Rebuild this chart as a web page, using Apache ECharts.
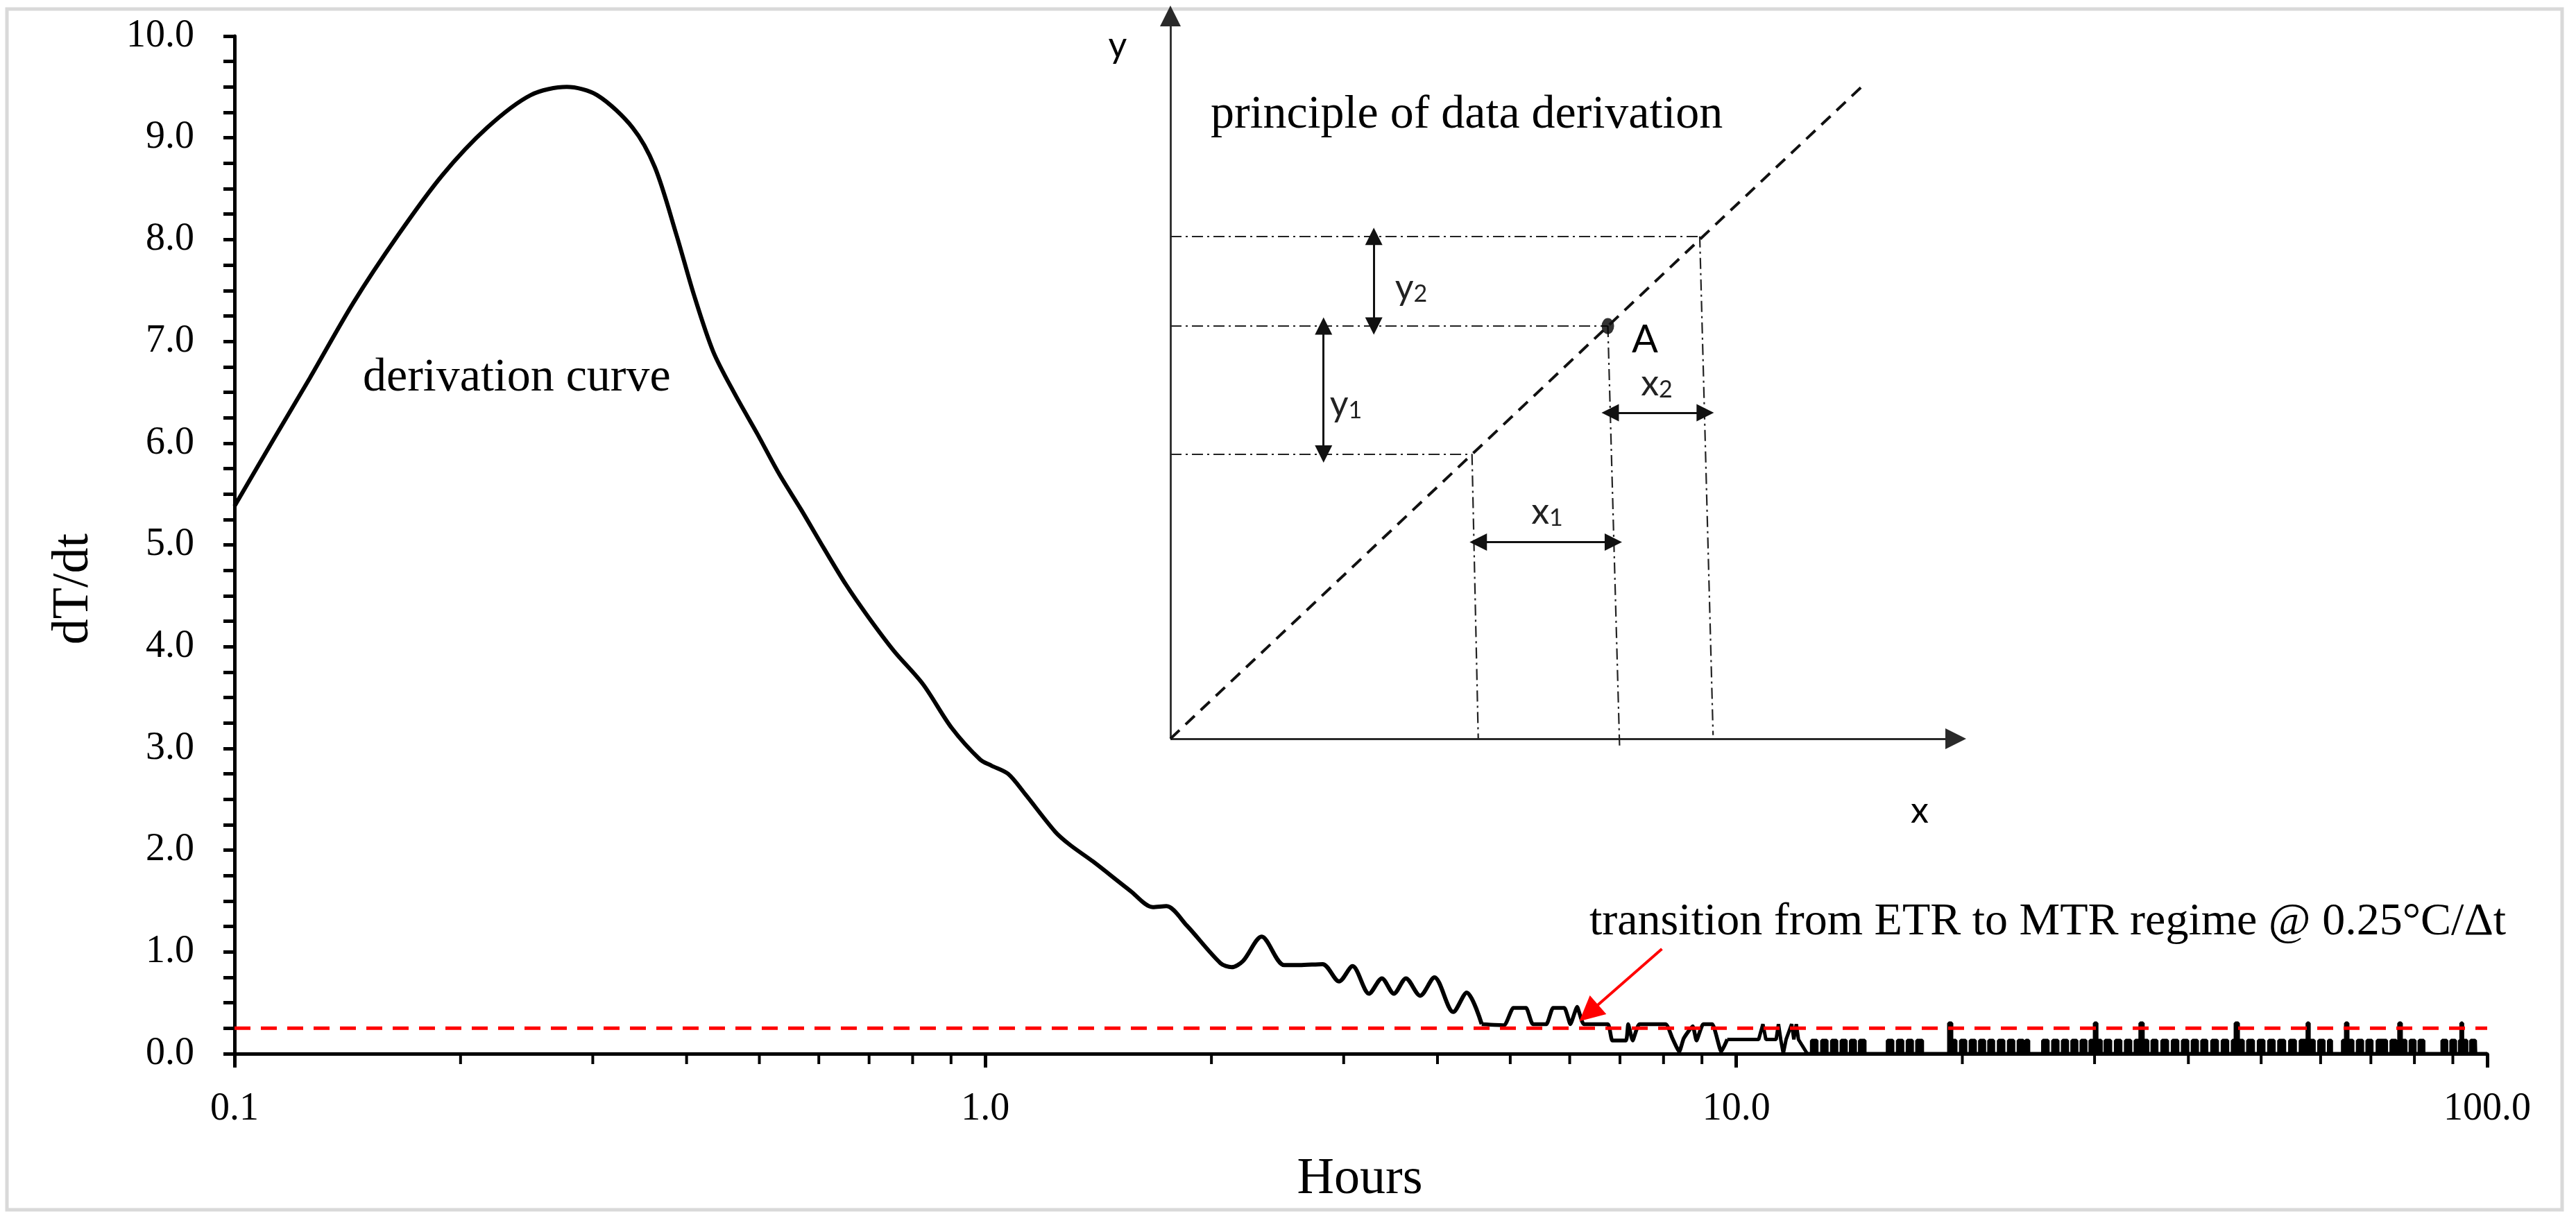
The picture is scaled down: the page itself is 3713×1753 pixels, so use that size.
<!DOCTYPE html>
<html lang="en">
<head>
    <meta charset="UTF-8"/>
    <script src="https://cdn.jsdelivr.net/npm/echarts@6/dist/echarts.min.js"></script>
    <title>dT/dt derivation curve</title>
    <style>
        html, body { margin: 0; padding: 0; background: #fff; }
        #chart { width: 3713px; height: 1753px; }
    </style>
</head>
<body>
<div id="chart"></div>
<script type="text/javascript">
    // derivation curve: hours and dT/dt
    var hours = [
        0.100, 0.113, 0.126, 0.144, 0.165, 0.189, 0.217, 0.248, 0.277, 0.304,
        0.339, 0.363, 0.388, 0.409, 0.434, 0.464, 0.497, 0.531, 0.569, 0.609,
        0.652, 0.697, 0.755, 0.826, 0.902, 0.984, 1.019, 1.072, 1.130, 1.239,
        1.297, 1.390, 1.560, 1.671, 1.742, 1.854, 2.056, 2.128, 2.203, 2.333,
        2.500, 2.618, 2.812, 2.958, 3.083, 3.243, 3.373, 3.499, 3.631, 3.793,
        3.963, 4.198, 4.375, 4.581, 4.909, 5.047, 5.248, 5.358, 5.585, 5.702,
        5.902, 6.012, 6.138, 6.266, 6.745, 6.839, 7.129, 7.178, 7.278, 7.430,
        8.054, 8.222, 8.395, 8.511, 8.750, 8.851, 9.036, 9.290, 9.550, 9.727
    ];
    var dTdt = [
        5.38, 6.05, 6.64, 7.38, 8.04, 8.63, 9.10, 9.42, 9.50, 9.42,
        9.10, 8.71, 8.04, 7.46, 6.90, 6.48, 6.09, 5.70, 5.34, 4.97,
        4.61, 4.30, 3.96, 3.63, 3.20, 2.89, 2.83, 2.75, 2.55, 2.18,
        2.05, 1.89, 1.60, 1.44, 1.45, 1.26, 0.89, 0.85, 0.91, 1.15,
        0.87, 0.87, 0.88, 0.71, 0.86, 0.59, 0.74, 0.59, 0.74, 0.57,
        0.75, 0.41, 0.60, 0.29, 0.28, 0.45, 0.45, 0.29, 0.29, 0.45,
        0.45, 0.29, 0.46, 0.29, 0.29, 0.13, 0.13, 0.29, 0.13, 0.29,
        0.29, 0.15, 0.02, 0.15, 0.27, 0.13, 0.29, 0.29, 0.02, 0.14
    ];
    // noisy tail after ~10 h
    var tailHours = [
        10.30, 10.71, 10.85, 10.95, 11.30, 11.38, 11.46, 11.55, 11.65, 11.85,
        11.93, 12.02, 12.10, 12.43, 12.60, 12.80, 13.00, 13.20, 13.40, 13.60,
        13.80, 14.00, 14.20, 14.40, 14.60, 14.83, 15.65, 15.90, 16.15, 16.40,
        16.65, 16.90, 17.15, 17.40, 17.69, 19.05, 19.19, 19.35, 19.60, 19.90,
        20.20, 20.50, 20.80, 21.10, 21.40, 21.70, 22.00, 22.35, 22.70, 23.05,
        23.40, 23.75, 24.10, 24.30, 24.50, 25.20, 25.60, 26.00, 26.40, 26.80,
        27.20, 27.60, 28.00, 28.40, 28.80, 29.20, 29.60, 30.00, 30.20, 30.60,
        31.00, 31.50, 32.00, 32.50, 33.00, 33.50, 34.00, 34.50, 34.80, 35.30,
        35.80, 36.30, 36.90, 37.50, 38.10, 38.70, 39.30, 39.90, 40.50, 41.10,
        41.70, 42.30, 43.00, 43.70, 44.40, 45.10, 45.80, 46.20, 46.60, 47.30,
        48.00, 48.80, 49.60, 50.40, 51.20, 52.00, 52.80, 53.70, 54.60, 55.50,
        56.40, 57.60, 57.90, 58.80, 59.70, 60.60, 61.50, 62.00, 63.50, 64.20,
        64.80, 65.20, 66.20, 67.20, 68.20, 69.20, 70.20, 71.40, 72.40, 73.40,
        74.50, 75.60, 76.30, 76.80, 77.90, 79.00, 80.10, 81.20, 82.30, 85.90,
        87.10, 88.30, 89.50, 90.70, 91.90, 92.30, 92.70, 93.90, 95.10, 96.40,
        96.50, 100.0
    ];
    var tailDTdt = [
        0.14, 0.14, 0.29, 0.14, 0.14, 0.29, 0.14, 0.00, 0.14, 0.29,
        0.14, 0.29, 0.14, 0.00, 0.13, 0.00, 0.13, 0.00, 0.13, 0.00,
        0.13, 0.00, 0.13, 0.00, 0.13, 0.00, 0.00, 0.13, 0.00, 0.13,
        0.00, 0.13, 0.00, 0.13, 0.00, 0.00, 0.30, 0.13, 0.00, 0.13,
        0.00, 0.13, 0.00, 0.13, 0.00, 0.13, 0.00, 0.13, 0.00, 0.13,
        0.00, 0.13, 0.00, 0.13, 0.00, 0.00, 0.13, 0.00, 0.13, 0.00,
        0.13, 0.00, 0.13, 0.00, 0.13, 0.00, 0.13, 0.30, 0.13, 0.00,
        0.13, 0.00, 0.13, 0.00, 0.13, 0.00, 0.13, 0.30, 0.13, 0.00,
        0.13, 0.00, 0.13, 0.00, 0.13, 0.00, 0.13, 0.00, 0.13, 0.00,
        0.13, 0.00, 0.13, 0.00, 0.13, 0.00, 0.13, 0.30, 0.13, 0.00,
        0.13, 0.00, 0.13, 0.00, 0.13, 0.00, 0.13, 0.00, 0.13, 0.00,
        0.13, 0.30, 0.13, 0.00, 0.13, 0.00, 0.13, 0.00, 0.00, 0.13,
        0.30, 0.13, 0.00, 0.13, 0.00, 0.13, 0.00, 0.13, 0.13, 0.00,
        0.13, 0.00, 0.30, 0.13, 0.00, 0.13, 0.00, 0.13, 0.00, 0.00,
        0.13, 0.00, 0.13, 0.00, 0.13, 0.30, 0.13, 0.00, 0.13, 0.13,
        0.00, 0.00
    ];
    var threshold = 0.25;          // °C/Δt
    var smoothUntil = 4.6;         // hours; after this the line is drawn less smoothed
    var blobFrom = 12.43;          // hours; from here the noise is drawn as a dense band
    var xMin = 0.1, xMax = 100;
    var minorTickHours = [0.2, 0.3, 0.4, 0.5, 0.6, 0.7, 0.8, 0.9,
                          2, 3, 4, 5, 6, 7, 8, 9,
                          20, 30, 40, 50, 60, 70, 80, 90];
    // red arrow: from (hours, dT/dt) to (hours, dT/dt)
    var arrowFrom = [7.96, 1.03];
    var arrowTo = [6.36, 0.40];

    // inset sketch, in its own 0-100 units
    var insetAxes = [[[0, 0], [0, 100]], [[0, 0], [100, 0]]];
    var insetDiagonal = [[0, 0], [88.6, 90.8]];
    var guideLines = [
        [[0, 69.5], [67.4, 69.5]],
        [[0, 57.1], [55.7, 57.1]],
        [[0, 39.4], [38.4, 39.4]],
        [[38.4, 39.4], [39.2, 0]],
        [[55.7, 57.1], [57.2, -1.3]],
        [[67.4, 69.5], [69.1, 0.5]]
    ];
    var spanArrows = [
        [[25.9, 69.5], [25.9, 57.1]],
        [[19.5, 57.1], [19.5, 39.4]],
        [[56.0, 45.1], [68.1, 45.1]],
        [[39.2, 27.2], [56.4, 27.2]]
    ];
    var pointA = [55.7, 57.1];

    var serif = "'Liberation Serif', 'DejaVu Serif', serif";
    var sans = "Lato, 'Open Sans', 'Liberation Sans', sans-serif";

    var mainData = [], straightData = [], tailData = [], blobData = [];
    var i;
    for (i = 0; i < hours.length; i++) {
        if (hours[i] <= smoothUntil) {
            mainData.push([hours[i], dTdt[i]]);
        }
        if (hours[i] >= 4.5) {
            straightData.push([hours[i], dTdt[i]]);
        }
    }
    tailData.push([hours[hours.length - 1], dTdt[dTdt.length - 1]]);
    for (i = 0; i < tailHours.length; i++) {
        if (tailHours[i] <= blobFrom) {
            tailData.push([tailHours[i], tailDTdt[i]]);
        }
        if (tailHours[i] >= blobFrom) {
            blobData.push([tailHours[i], tailDTdt[i]]);
        }
    }
    var minorTicks = minorTickHours.map(function (h) { return [h, 0]; });

    function toLines(list) {
        return list.map(function (c) { return {coords: c}; });
    }

    function sub(main, idx, x, y) {
        return {
            type: 'text', x: x, y: y, z: 10,
            style: {
                text: '{m|' + main + '}{s|' + idx + '}',
                align: 'center', verticalAlign: 'middle',
                rich: {
                    m: {fontSize: 52, fontFamily: sans, fill: '#222', lineHeight: 56, verticalAlign: 'bottom'},
                    s: {fontSize: 34, fontFamily: sans, fill: '#222', lineHeight: 56, verticalAlign: 'bottom'}
                }
            }
        };
    }

    function plainText(txt, x, y, size, family, align, extra) {
        var el = {
            type: 'text', x: x, y: y, z: 10,
            style: {
                text: txt, fontSize: size, fontFamily: family, fill: '#000',
                align: align || 'left', verticalAlign: 'middle'
            }
        };
        if (extra) {
            for (var k in extra) { el[k] = extra[k]; }
        }
        return el;
    }

    var myChart = echarts.init(document.getElementById('chart'), null, {renderer: 'canvas'});
    var option = {
        backgroundColor: '#fff',
        animation: false,
        grid: [
            {left: 338, top: 52, right: 128, bottom: 234, outerBoundsMode: 'none'},
            {left: 1687, top: 23, width: 1132, height: 1042, outerBoundsMode: 'none'}
        ],
        xAxis: [
            {
                type: 'log', logBase: 10, min: xMin, max: xMax, splitNumber: 3,
                gridIndex: 0,
                axisLine: {show: true, onZero: false, lineStyle: {color: '#000', width: 5}},
                axisTick: {show: true, length: 20, lineStyle: {color: '#000', width: 5}},
                minorTick: {show: false},
                splitLine: {show: false},
                axisLabel: {
                    margin: 52, fontSize: 56, fontFamily: serif, color: '#000',
                    formatter: function (v) { return Number(v).toFixed(1); }
                }
            },
            {type: 'value', gridIndex: 1, min: 0, max: 100, show: false}
        ],
        yAxis: [
            {
                type: 'value', min: 0, max: 10, interval: 1, gridIndex: 0,
                axisLine: {show: true, lineStyle: {color: '#000', width: 5}},
                axisTick: {show: true, length: 16, lineStyle: {color: '#000', width: 5}},
                minorTick: {show: true, splitNumber: 4, length: 16, lineStyle: {color: '#000', width: 5}},
                splitLine: {show: false},
                axisLabel: {
                    margin: 58, fontSize: 56, fontFamily: serif, color: '#000',
                    formatter: function (v) { return v.toFixed(1); }
                }
            },
            {type: 'value', gridIndex: 1, min: 0, max: 100, show: false}
        ],
        series: [
            {
                name: 'derivation curve', type: 'line', xAxisIndex: 0, yAxisIndex: 0,
                data: mainData, smooth: 0.3, showSymbol: false, silent: true,
                lineStyle: {color: '#000', width: 6}
            },
            {
                name: 'derivation steps', type: 'line', xAxisIndex: 0, yAxisIndex: 0,
                data: straightData, smooth: 0.15, showSymbol: false, silent: true,
                lineStyle: {color: '#000', width: 5.5}
            },
            {
                name: 'derivation tail', type: 'line', xAxisIndex: 0, yAxisIndex: 0,
                data: tailData, showSymbol: false, silent: true,
                lineStyle: {color: '#000', width: 5}
            },
            {
                name: 'derivation noise', type: 'line', xAxisIndex: 0, yAxisIndex: 0,
                data: blobData, step: 'end', showSymbol: false, silent: true,
                lineStyle: {color: '#000', width: 5},
                areaStyle: {color: '#000', opacity: 1, origin: 'start'}
            },
            {
                name: 'minor ticks', type: 'custom', xAxisIndex: 0, yAxisIndex: 0,
                data: minorTicks, clip: false, silent: true, z: 4,
                renderItem: function (params, api) {
                    var p = api.coord([api.value(0), api.value(1)]);
                    return {
                        type: 'line',
                        shape: {x1: p[0], y1: p[1], x2: p[0], y2: p[1] + 15},
                        style: {stroke: '#000', lineWidth: 4}
                    };
                }
            },
            {
                name: 'threshold', type: 'line', xAxisIndex: 0, yAxisIndex: 0,
                data: [[xMin, threshold], [xMax, threshold]], showSymbol: false, silent: true, z: 5,
                lineStyle: {color: '#ff0000', width: 5, type: [23, 15]}
            },
            {
                name: 'arrow', type: 'lines', coordinateSystem: 'cartesian2d',
                xAxisIndex: 0, yAxisIndex: 0, clip: false, silent: true, z: 6,
                symbol: ['none', 'triangle'], symbolSize: 36,
                lineStyle: {color: '#ff0000', width: 4, opacity: 1},
                data: [{coords: [arrowFrom, arrowTo]}]
            },
            {
                name: 'inset axes', type: 'lines', coordinateSystem: 'cartesian2d',
                xAxisIndex: 1, yAxisIndex: 1, clip: false, silent: true,
                symbol: ['none', 'triangle'], symbolSize: 30,
                lineStyle: {color: '#2a2a2a', width: 2.8, opacity: 1},
                data: toLines(insetAxes)
            },
            {
                name: 'inset diagonal', type: 'line', xAxisIndex: 1, yAxisIndex: 1,
                data: insetDiagonal, showSymbol: false, silent: true, clip: false,
                lineStyle: {color: '#111', width: 4, type: [18, 12]}
            },
            {
                name: 'inset guides', type: 'lines', coordinateSystem: 'cartesian2d',
                xAxisIndex: 1, yAxisIndex: 1, clip: false, silent: true,
                symbol: ['none', 'none'],
                lineStyle: {color: '#222', width: 2.2, type: [16, 6, 3, 6], opacity: 1},
                data: toLines(guideLines)
            },
            {
                name: 'inset spans', type: 'lines', coordinateSystem: 'cartesian2d',
                xAxisIndex: 1, yAxisIndex: 1, clip: false, silent: true,
                symbol: ['triangle', 'triangle'], symbolSize: 25,
                lineStyle: {color: '#111', width: 3, opacity: 1},
                data: toLines(spanArrows)
            },
            {
                name: 'A', type: 'scatter', xAxisIndex: 1, yAxisIndex: 1,
                data: [pointA], symbol: 'circle', symbolSize: [18, 23], silent: true,
                itemStyle: {color: '#000'}
            }
        ],
        graphic: [
            {
                type: 'rect', z: 0,
                shape: {x: 10, y: 13, width: 3683, height: 1731},
                style: {fill: 'none', stroke: '#d9d9d9', lineWidth: 5}
            },
            plainText('derivation curve', 523, 545, 68, serif),
            plainText('transition from ETR to MTR regime @ 0.25°C/Δt', 2291, 1330, 66, serif),
            plainText('principle of data derivation', 1745, 166, 68, serif),
            plainText('Hours', 1960, 1701, 74, serif, 'center'),
            plainText('dT/dt', 107, 849, 74, serif, 'center', {rotation: Math.PI / 2}),
            plainText('y', 1611, 66, 52, sans, 'center'),
            plainText('x', 2767, 1169, 52, sans, 'center'),
            plainText('A', 2371, 490, 56, sans, 'center'),
            sub('y', '2', 2034, 413),
            sub('y', '1', 1940, 581),
            sub('x', '2', 2388, 551),
            sub('x', '1', 2230, 736)
        ]
    };
    myChart.setOption(option);
</script>
</body>
</html>
